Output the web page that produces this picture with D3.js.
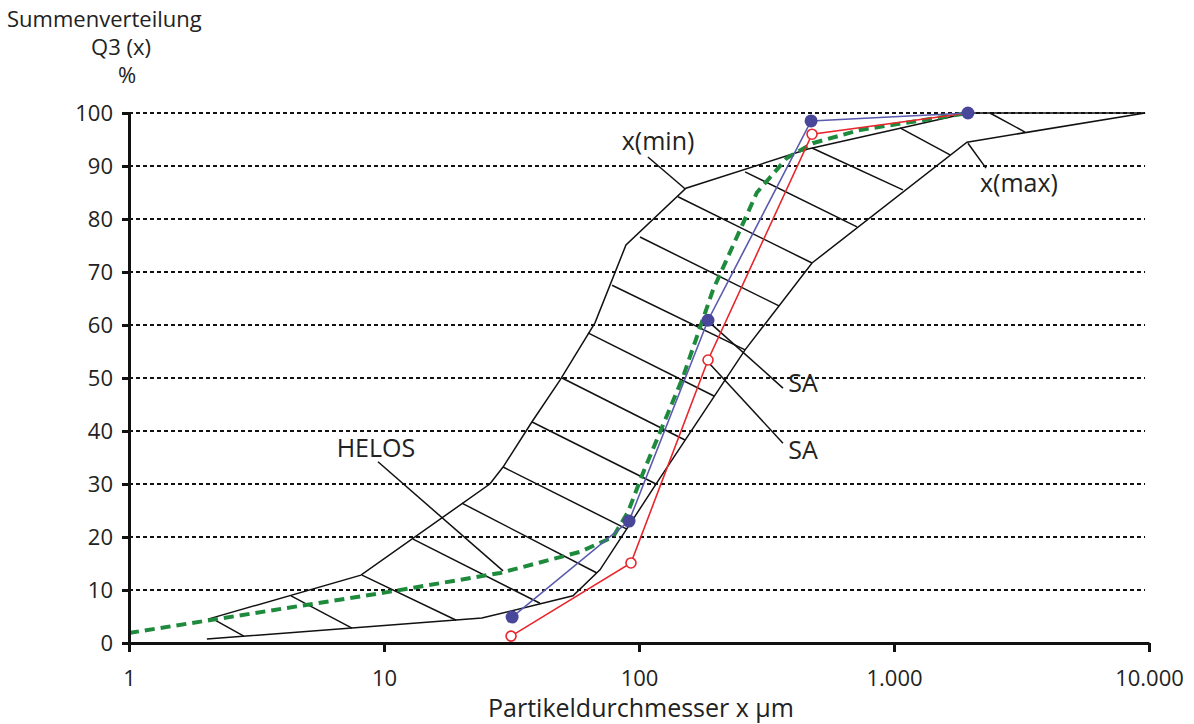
<!DOCTYPE html>
<html>
<head>
<meta charset="utf-8">
<script src="https://cdn.jsdelivr.net/npm/d3@7"></script>
<style>
  body { margin: 0; background: #fff; }
  text { font-family: "Open Sans", "Noto Sans", sans-serif; fill: #222; }
</style>
</head>
<body>
<svg id="chart"></svg>
<script>
// Summenverteilung Q3(x) - Toleranzband mit SA und HELOS Messungen
var yTicks = [0, 10, 20, 30, 40, 50, 60, 70, 80, 90, 100];
var xTicks = [1, 10, 100, 1000, 10000];
var yTitle = ["Summenverteilung", "Q3 (x)", "%"];
var xTitle = "Partikeldurchmesser x \u00b5m";

// Grenzkurven des Bandes [x in µm, Q3 in %]
var xMinCurve = [[2.04, 4.5], [8.12, 12.8], [26.0, 30.0], [29.3, 33.2], [38.0, 41.7],
  [49.0, 49.6], [67.2, 60.4], [88.9, 75.1], [152.8, 85.8], [460, 93.2], [1950, 100], [9650, 100]];
var xMaxCurve = [[2.02, 0.75], [24.2, 4.7], [55.1, 8.9], [70.3, 13.8], [120.8, 31.1],
  [260.6, 55.3], [477, 71.7], [1933, 94.5], [9650, 100]];

// Schraffur zwischen den Grenzkurven [x1, y1, x2, y2]
var hatchLines = [
  [2.14, 4.5, 2.82, 1.3], [4.32, 8.9, 7.49, 2.8], [8.2, 12.8, 19.2, 4.3],
  [13.0, 19.6, 40.9, 7.5], [20.2, 26.4, 68.4, 13.2], [29.3, 33.2, 89.7, 21.5],
  [38.1, 41.7, 116.6, 30.0], [49.9, 50.0, 151.5, 38.3], [63.1, 58.5, 196.8, 46.6],
  [78.4, 67.5, 260.6, 55.3], [100.9, 76.6, 354, 63.6], [142.2, 84.2, 477, 71.7],
  [260.6, 88.9, 716, 78.5], [477, 93.4, 1084, 85.5], [1056, 97.2, 1659, 92.1],
  [2378, 100, 3265, 96.4]
];

var saBlue = [[31.8, 4.9], [91.4, 23.0], [186.5, 60.9], [473, 98.5], [1950, 100]];
var saRed = [[31.5, 1.3], [93.0, 15.1], [186.5, 53.4], [477, 96.0], [1950, 100]];
var helos = [[1, 1.9], [10.3, 9.6], [28.5, 13.2], [58.7, 17.2], [79.1, 20.0], [90.5, 24.7],
  [103.7, 32.1], [148.8, 50.2], [195, 66.6], [290, 85.0], [380, 91.5], [480, 94.3], [736, 96.8], [1950, 100]];

// Beschriftungen: text, Textposition, Hinweislinie von -> bis
var labels = [
  { text: "x(min)", at: [118.8, 94.7], from: [108.4, 91.7], to: [151.5, 85.7] },
  { text: "x(max)", at: [3090, 86.8], from: [1950, 94.3], to: [2295, 89.6] },
  { text: "SA", at: [439.5, 49.1], from: [189.8, 60.4], to: [367, 48.1] },
  { text: "SA", at: [439.5, 36.4], from: [186.5, 53.0], to: [367, 37.7] },
  { text: "HELOS", at: [9.3, 36.8], from: [9.47, 34.2], to: [29.3, 13.6] }
];

var svgWidth = 1194, svgHeight = 724;
var svg = d3.select("#chart")
  .attr("width", svgWidth)
  .attr("height", svgHeight);

var x = d3.scaleLog().domain([1, 10000]).range([129, 1149]);
var y = d3.scaleLinear().domain([0, 100]).range([643, 113]);

var de = d3.formatLocale({ decimal: ",", thousands: ".", grouping: [3], currency: ["", ""] });
var fmt = de.format(",");

// gestrichelte Gitterlinien
svg.append("g")
  .selectAll("line")
  .data(yTicks.filter(function (d) { return d > 0; }))
  .enter().append("line")
  .attr("x1", x(1)).attr("x2", x(9650))
  .attr("y1", function (d) { return y(d); })
  .attr("y2", function (d) { return y(d); })
  .attr("stroke", "#111")
  .attr("stroke-width", 1.8)
  .attr("stroke-dasharray", "4,3");

var line = d3.line()
  .x(function (d) { return x(d[0]); })
  .y(function (d) { return y(d[1]); });

// Band
var band = svg.append("g").attr("fill", "none").attr("stroke", "#111").attr("stroke-width", 1.5);
band.append("path").attr("d", line(xMinCurve));
band.append("path").attr("d", line(xMaxCurve));
band.selectAll("line.hatch")
  .data(hatchLines)
  .enter().append("line")
  .attr("class", "hatch")
  .attr("x1", function (d) { return x(d[0]); })
  .attr("y1", function (d) { return y(d[1]); })
  .attr("x2", function (d) { return x(d[2]); })
  .attr("y2", function (d) { return y(d[3]); });

// Hinweislinien
svg.append("g")
  .selectAll("line")
  .data(labels)
  .enter().append("line")
  .attr("x1", function (d) { return x(d.from[0]); })
  .attr("y1", function (d) { return y(d.from[1]); })
  .attr("x2", function (d) { return x(d.to[0]); })
  .attr("y2", function (d) { return y(d.to[1]); })
  .attr("stroke", "#111")
  .attr("stroke-width", 1.5);

// HELOS
svg.append("path")
  .attr("d", line(helos))
  .attr("fill", "none")
  .attr("stroke", "#1d8a3c")
  .attr("stroke-width", 4)
  .attr("stroke-dasharray", "10,6");

// SA rot
svg.append("path")
  .attr("d", line(saRed))
  .attr("fill", "none")
  .attr("stroke", "#e8262c")
  .attr("stroke-width", 1.6);
svg.append("g")
  .selectAll("circle")
  .data(saRed.slice(0, 4))
  .enter().append("circle")
  .attr("cx", function (d) { return x(d[0]); })
  .attr("cy", function (d) { return y(d[1]); })
  .attr("r", 5)
  .attr("fill", "#fff")
  .attr("stroke", "#e8262c")
  .attr("stroke-width", 1.6);

// SA blau
svg.append("path")
  .attr("d", line(saBlue))
  .attr("fill", "none")
  .attr("stroke", "#5a5aae")
  .attr("stroke-width", 1.6);
svg.append("g")
  .selectAll("circle")
  .data(saBlue)
  .enter().append("circle")
  .attr("cx", function (d) { return x(d[0]); })
  .attr("cy", function (d) { return y(d[1]); })
  .attr("r", 6.5)
  .attr("fill", "#48479a");

// Achsen
var yAxis = svg.append("g")
  .attr("transform", "translate(" + x(1) + ",0)")
  .call(d3.axisLeft(y).tickValues(yTicks).tickSize(7).tickSizeOuter(0).tickPadding(9));
var xAxis = svg.append("g")
  .attr("transform", "translate(0," + y(0) + ")")
  .call(d3.axisBottom(x).tickValues(xTicks).tickFormat(fmt).tickSize(9).tickSizeOuter(0).tickPadding(18));

[yAxis, xAxis].forEach(function (a) {
  a.select(".domain").attr("stroke", "#111").attr("stroke-width", 3);
  a.selectAll(".tick line").attr("stroke", "#111").attr("stroke-width", 3);
  a.selectAll(".tick text").attr("font-size", 22).attr("fill", "#222")
    .style("font-family", "'Open Sans', 'Noto Sans', sans-serif");
});

// Beschriftungen
svg.append("g")
  .selectAll("text")
  .data(labels)
  .enter().append("text")
  .attr("x", function (d) { return x(d.at[0]); })
  .attr("y", function (d) { return y(d.at[1]); })
  .attr("dy", "0.35em")
  .attr("text-anchor", "middle")
  .attr("font-size", 25)
  .text(function (d) { return d.text; });

// Achsentitel
svg.append("g")
  .selectAll("text")
  .data(yTitle)
  .enter().append("text")
  .attr("x", function (d, i) { return i === 0 ? 7 : (i === 1 ? 121 : 127); })
  .attr("y", function (d, i) { return 27 + i * 28; })
  .attr("text-anchor", function (d, i) { return i === 0 ? "start" : "middle"; })
  .attr("font-size", 22)
  .text(function (d) { return d; });

svg.append("text")
  .attr("x", 641)
  .attr("y", 717)
  .attr("text-anchor", "middle")
  .attr("font-size", 25)
  .text(xTitle);
</script>
</body>
</html>
